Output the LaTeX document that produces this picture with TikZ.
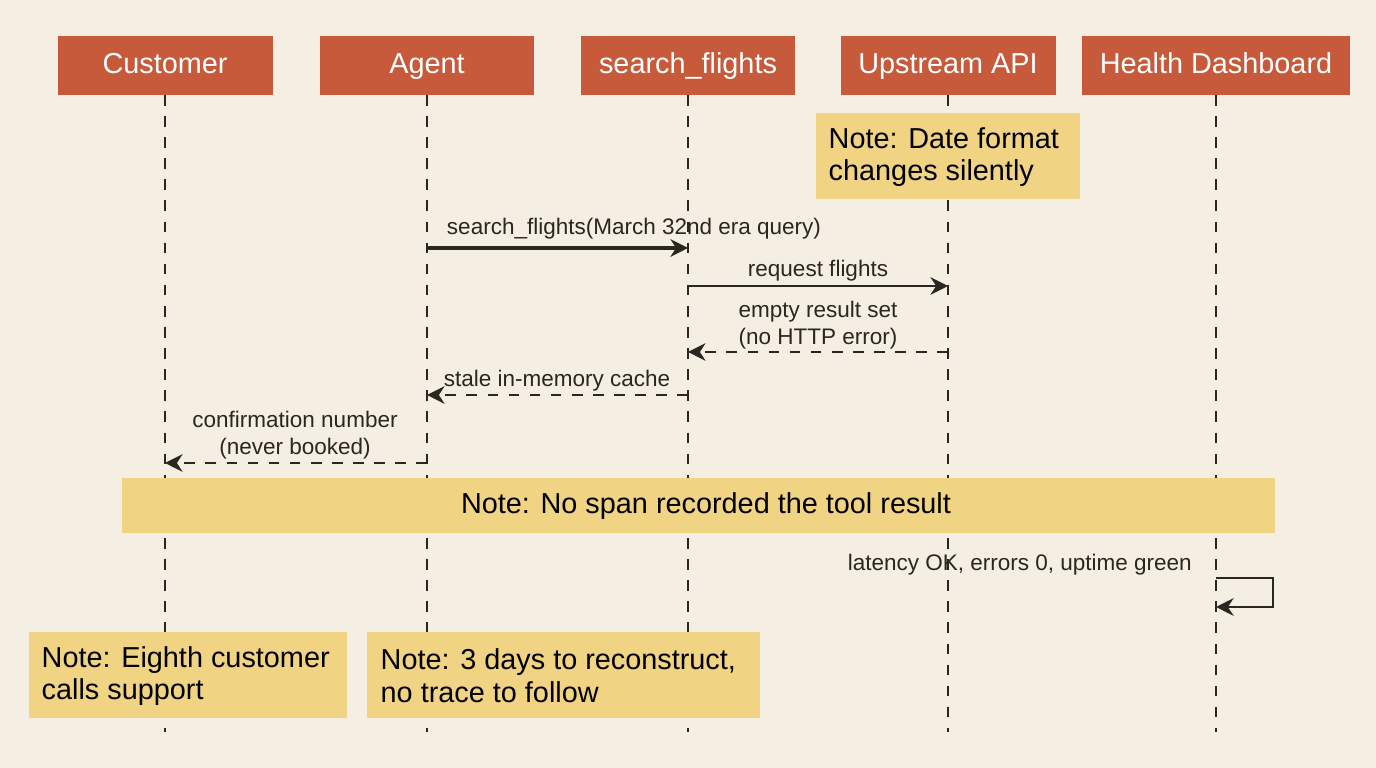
\documentclass[tikz,border=0pt]{standalone}
\usepackage{fontspec}
\setmainfont{Liberation Sans}
\usetikzlibrary{arrows.meta}
\definecolor{bg}{HTML}{F4EFE2}
\definecolor{head}{HTML}{C65A3A}
\definecolor{note}{HTML}{F0D483}
\definecolor{ink}{HTML}{2A2620}
\begin{document}
\begin{tikzpicture}[x=0.01cm, y=-0.01cm,
	actor/.style={text=white, font=\fontsize{8.2}{9}\selectfont, inner sep=0pt, text height=6pt, text depth=1.8pt},
	notebox/.style={font=\fontsize{8.2}{9.3}\selectfont, align=left, inner sep=0pt},
	msg/.style={font=\fontsize{6.4}{7.5}\selectfont, align=center, inner sep=1pt, text=ink},
	life/.style={dashed, line width=0.35pt, ink},
	call/.style={-{Stealth[length=5pt,width=5pt]}, line width=0.6pt, ink},
	reply/.style={call, dashed}]
	\useasboundingbox (0,0) rectangle (1376,768);
	\fill[bg] (0,0) rectangle (1376,768);
	% \draw[help lines] (0,0) grid (1376,768);

	% lifelines
	\foreach \name/\x in {cu/165, ag/427, sf/688, up/948, hd/1216} {
		\coordinate (\name top) at (\x,95);
		\coordinate (\name bot) at (\x,732);
		\draw[life] (\name top) -- (\name bot);
	}

	% actors
	\fill[head] (58,36) rectangle (273,95);   \node[actor] (customer) at (165,66) {Customer};
	\fill[head] (320,36) rectangle (534,95);  \node[actor] (agent) at (427,66) {Agent};
	\fill[head] (581,36) rectangle (795,95);  \node[actor] (search) at (688,66) {search\_flights};
	\fill[head] (841,36) rectangle (1056,95); \node[actor] (upstream) at (948,66) {Upstream API};
	\fill[head] (1082,36) rectangle (1350,95); \node[actor] (health) at (1216,66) {Health Dashboard};

	% notes
	\fill[note] (816,113) rectangle (1080,199);
	\node[notebox, anchor=west] (datenote) at (828,157) {Note: Date format\\changes silently};
	\fill[note] (122,478) rectangle (1275,533);
	\node[notebox] (spannote) at (706,506) {Note: No span recorded the tool result};
	\fill[note] (29,632) rectangle (347,718);
	\node[notebox, anchor=west] (custnote) at (41,676) {Note: Eighth customer\\calls support};
	\fill[note] (367,632) rectangle (760,718);
	\node[notebox, anchor=west] (tracenote) at (380,676) {Note: 3 days to reconstruct,\\no trace to follow};

	% messages
	\coordinate (m1a) at (427,248); \coordinate (m1b) at (688,248);
	\draw[call, line width=1.3pt] (m1a) -- (m1b);
	\node[msg] (m1) at (634,229) {search\_flights(March 32nd era query)};
	\coordinate (m2a) at (688,286); \coordinate (m2b) at (948,286);
	\draw[call] (m2a) -- (m2b);
	\node[msg] (m2) at (818,271) {request flights};
	\coordinate (m3a) at (948,352); \coordinate (m3b) at (688,352);
	\draw[reply] (m3a) -- (m3b);
	\node[msg] (m3) at (818,325) {empty result set\\(no HTTP error)};
	\coordinate (m4a) at (688,395); \coordinate (m4b) at (427,395);
	\draw[reply] (m4a) -- (m4b);
	\node[msg] (m4) at (557,381) {stale in-memory cache};
	\coordinate (m5a) at (427,463); \coordinate (m5b) at (165,463);
	\draw[reply] (m5a) -- (m5b);
	\node[msg] (m5) at (295,435) {confirmation number\\(never booked)};
	\coordinate (s1) at (1216,578); \coordinate (s2) at (1216,607);
	\draw[call] (s1) -- (1273,578) -- (1273,607) -- (s2);
	\node[msg, anchor=east] (self) at (1196,565) {latency OK, errors 0, uptime green};
\end{tikzpicture}
\end{document}
